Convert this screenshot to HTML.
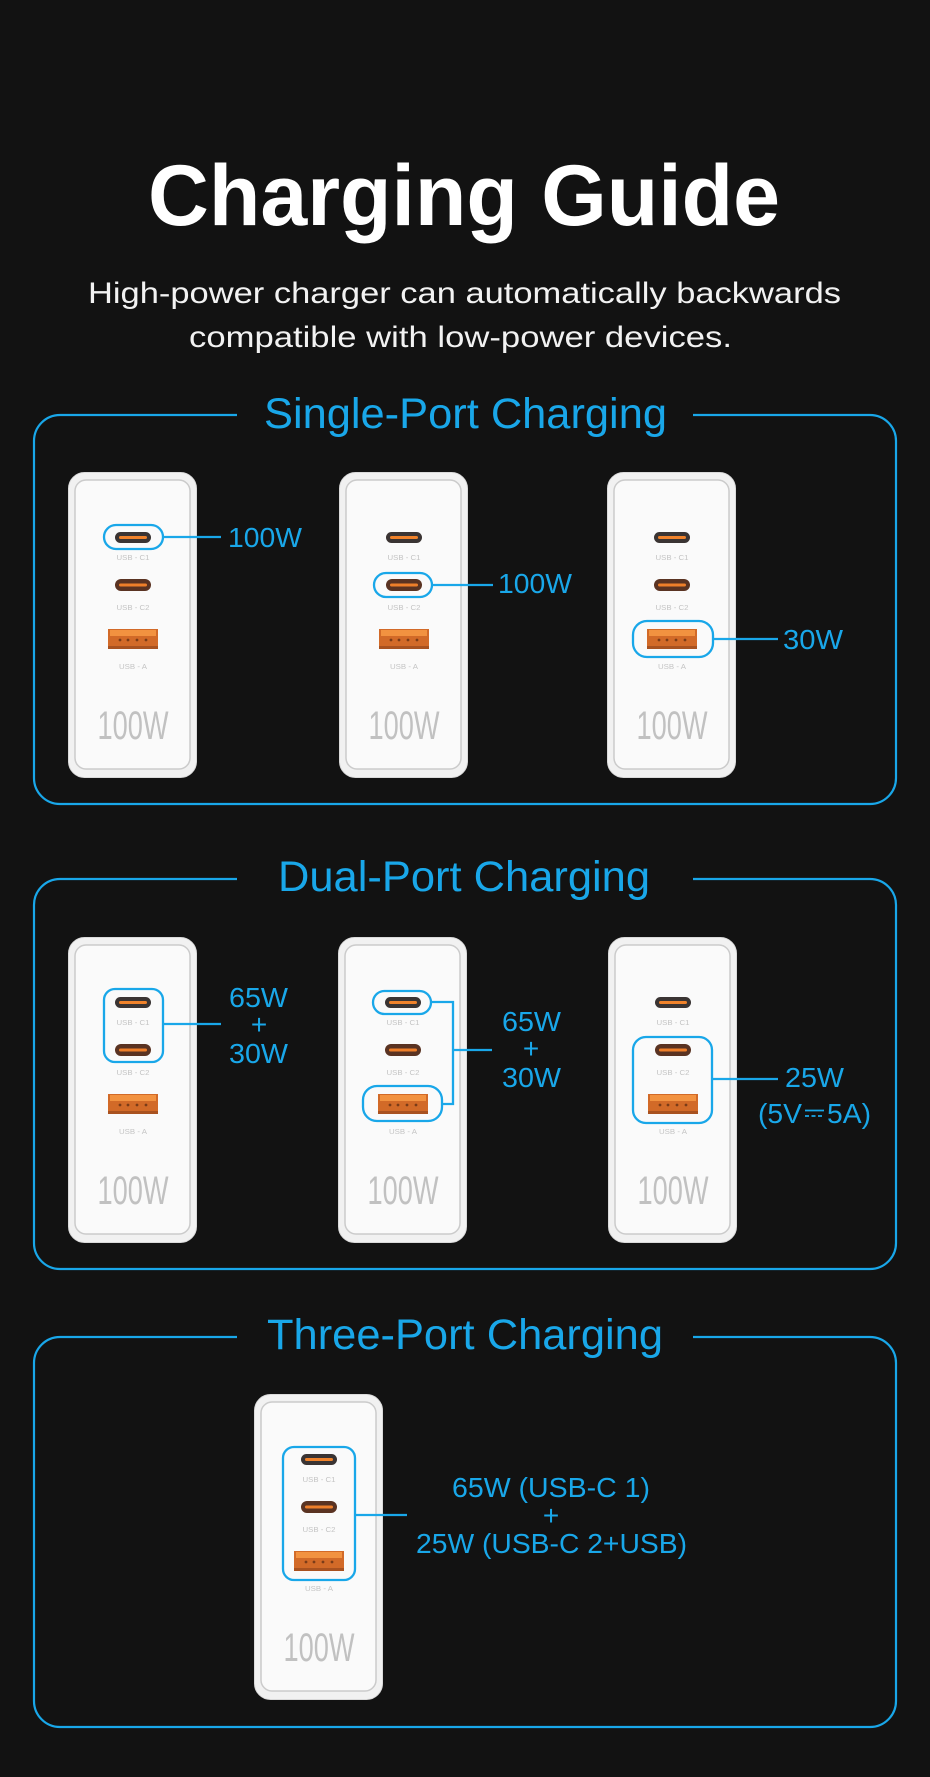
<!DOCTYPE html>
<html><head><meta charset="utf-8"><style>
html,body{margin:0;padding:0;background:#121212;}
svg{display:block;}
.t{font-family:"Liberation Sans",sans-serif;}
.pl{font-family:"Liberation Sans",sans-serif;font-size:7px;fill:#c4c4c4;text-anchor:middle;}
.big{font-family:"Liberation Sans Narrow","Liberation Sans",sans-serif;font-size:40px;fill:#c1c1c1;text-anchor:middle;}
.lb{font-family:"Liberation Sans",sans-serif;font-size:28px;fill:#19a7e9;}
.hd{font-family:"Liberation Sans",sans-serif;font-size:43px;fill:#19a7e9;}
</style></head><body>
<svg width="930" height="1777" viewBox="0 0 930 1777" xmlns="http://www.w3.org/2000/svg">
<rect width="930" height="1777" fill="#121212"/>

<!-- Title -->
<text class="t" x="148" y="225" font-size="86" font-weight="bold" fill="#ffffff" textLength="632" lengthAdjust="spacingAndGlyphs">Charging Guide</text>
<text class="t" x="88" y="303" font-size="30" fill="#f2f2f2" textLength="753" lengthAdjust="spacingAndGlyphs">High-power charger can automatically backwards</text>
<text class="t" x="189" y="347" font-size="30" fill="#f2f2f2" textLength="543" lengthAdjust="spacingAndGlyphs">compatible with low-power devices.</text>

<!-- Section boxes -->
<g fill="none" stroke="#19a7e9" stroke-width="2.2">
<path d="M237 415 H60 A26 26 0 0 0 34 441 V778 A26 26 0 0 0 60 804 H870 A26 26 0 0 0 896 778 V441 A26 26 0 0 0 870 415 H693"/>
<path d="M237 879 H60 A26 26 0 0 0 34 905 V1243 A26 26 0 0 0 60 1269 H870 A26 26 0 0 0 896 1243 V905 A26 26 0 0 0 870 879 H693"/>
<path d="M237 1337 H60 A26 26 0 0 0 34 1363 V1701 A26 26 0 0 0 60 1727 H870 A26 26 0 0 0 896 1701 V1363 A26 26 0 0 0 870 1337 H693"/>
</g>
<text class="hd" x="264" y="428" textLength="403" lengthAdjust="spacingAndGlyphs">Single-Port Charging</text>
<text class="hd" x="278" y="891" textLength="372" lengthAdjust="spacingAndGlyphs">Dual-Port Charging</text>
<text class="hd" x="267" y="1349" textLength="396" lengthAdjust="spacingAndGlyphs">Three-Port Charging</text>

<!-- Charger template copies -->
<g transform="translate(68,472)">
<rect x="0.5" y="0.5" width="128" height="305" rx="16" fill="#f1f1f1" stroke="#dadada"/>
<rect x="7" y="8" width="115" height="289" rx="11" fill="#fafafa" stroke="#cbcbcb" stroke-width="1.5"/>
<rect x="47" y="60" width="36" height="11" rx="5.5" fill="#3a3433"/><rect x="51" y="64" width="28" height="3" rx="1.5" fill="#f0822a"/>
<text class="pl" x="65" y="88" textLength="33" lengthAdjust="spacingAndGlyphs">USB - C1</text>
<rect x="47" y="107" width="36" height="12" rx="6" fill="#5a3322"/><rect x="51" y="111.5" width="28" height="3" rx="1.5" fill="#ee7f2a"/>
<text class="pl" x="65" y="138" textLength="33" lengthAdjust="spacingAndGlyphs">USB - C2</text>
<rect x="40" y="157" width="50" height="20" fill="#d26a28"/><rect x="42" y="158" width="46" height="6" fill="#f29240"/>
<circle cx="52" cy="168" r="1.4" fill="#7a3c18"/><circle cx="60" cy="168" r="1.4" fill="#7a3c18"/><circle cx="69" cy="168" r="1.4" fill="#7a3c18"/><circle cx="78" cy="168" r="1.4" fill="#7a3c18"/>
<rect x="40" y="174" width="50" height="3" fill="#a95220"/>
<text class="pl" x="65" y="197" textLength="28" lengthAdjust="spacingAndGlyphs">USB - A</text>
<text class="big" x="65" y="267" textLength="71" lengthAdjust="spacingAndGlyphs">100W</text>
</g>

<g transform="translate(339,472)">
<rect x="0.5" y="0.5" width="128" height="305" rx="16" fill="#f1f1f1" stroke="#dadada"/>
<rect x="7" y="8" width="115" height="289" rx="11" fill="#fafafa" stroke="#cbcbcb" stroke-width="1.5"/>
<rect x="47" y="60" width="36" height="11" rx="5.5" fill="#3a3433"/><rect x="51" y="64" width="28" height="3" rx="1.5" fill="#f0822a"/>
<text class="pl" x="65" y="88" textLength="33" lengthAdjust="spacingAndGlyphs">USB - C1</text>
<rect x="47" y="107" width="36" height="12" rx="6" fill="#5a3322"/><rect x="51" y="111.5" width="28" height="3" rx="1.5" fill="#ee7f2a"/>
<text class="pl" x="65" y="138" textLength="33" lengthAdjust="spacingAndGlyphs">USB - C2</text>
<rect x="40" y="157" width="50" height="20" fill="#d26a28"/><rect x="42" y="158" width="46" height="6" fill="#f29240"/>
<circle cx="52" cy="168" r="1.4" fill="#7a3c18"/><circle cx="60" cy="168" r="1.4" fill="#7a3c18"/><circle cx="69" cy="168" r="1.4" fill="#7a3c18"/><circle cx="78" cy="168" r="1.4" fill="#7a3c18"/>
<rect x="40" y="174" width="50" height="3" fill="#a95220"/>
<text class="pl" x="65" y="197" textLength="28" lengthAdjust="spacingAndGlyphs">USB - A</text>
<text class="big" x="65" y="267" textLength="71" lengthAdjust="spacingAndGlyphs">100W</text>
</g>

<g transform="translate(607,472)">
<rect x="0.5" y="0.5" width="128" height="305" rx="16" fill="#f1f1f1" stroke="#dadada"/>
<rect x="7" y="8" width="115" height="289" rx="11" fill="#fafafa" stroke="#cbcbcb" stroke-width="1.5"/>
<rect x="47" y="60" width="36" height="11" rx="5.5" fill="#3a3433"/><rect x="51" y="64" width="28" height="3" rx="1.5" fill="#f0822a"/>
<text class="pl" x="65" y="88" textLength="33" lengthAdjust="spacingAndGlyphs">USB - C1</text>
<rect x="47" y="107" width="36" height="12" rx="6" fill="#5a3322"/><rect x="51" y="111.5" width="28" height="3" rx="1.5" fill="#ee7f2a"/>
<text class="pl" x="65" y="138" textLength="33" lengthAdjust="spacingAndGlyphs">USB - C2</text>
<rect x="40" y="157" width="50" height="20" fill="#d26a28"/><rect x="42" y="158" width="46" height="6" fill="#f29240"/>
<circle cx="52" cy="168" r="1.4" fill="#7a3c18"/><circle cx="60" cy="168" r="1.4" fill="#7a3c18"/><circle cx="69" cy="168" r="1.4" fill="#7a3c18"/><circle cx="78" cy="168" r="1.4" fill="#7a3c18"/>
<rect x="40" y="174" width="50" height="3" fill="#a95220"/>
<text class="pl" x="65" y="197" textLength="28" lengthAdjust="spacingAndGlyphs">USB - A</text>
<text class="big" x="65" y="267" textLength="71" lengthAdjust="spacingAndGlyphs">100W</text>
</g>

<g transform="translate(68,937)">
<rect x="0.5" y="0.5" width="128" height="305" rx="16" fill="#f1f1f1" stroke="#dadada"/>
<rect x="7" y="8" width="115" height="289" rx="11" fill="#fafafa" stroke="#cbcbcb" stroke-width="1.5"/>
<rect x="47" y="60" width="36" height="11" rx="5.5" fill="#3a3433"/><rect x="51" y="64" width="28" height="3" rx="1.5" fill="#f0822a"/>
<text class="pl" x="65" y="88" textLength="33" lengthAdjust="spacingAndGlyphs">USB - C1</text>
<rect x="47" y="107" width="36" height="12" rx="6" fill="#5a3322"/><rect x="51" y="111.5" width="28" height="3" rx="1.5" fill="#ee7f2a"/>
<text class="pl" x="65" y="138" textLength="33" lengthAdjust="spacingAndGlyphs">USB - C2</text>
<rect x="40" y="157" width="50" height="20" fill="#d26a28"/><rect x="42" y="158" width="46" height="6" fill="#f29240"/>
<circle cx="52" cy="168" r="1.4" fill="#7a3c18"/><circle cx="60" cy="168" r="1.4" fill="#7a3c18"/><circle cx="69" cy="168" r="1.4" fill="#7a3c18"/><circle cx="78" cy="168" r="1.4" fill="#7a3c18"/>
<rect x="40" y="174" width="50" height="3" fill="#a95220"/>
<text class="pl" x="65" y="197" textLength="28" lengthAdjust="spacingAndGlyphs">USB - A</text>
<text class="big" x="65" y="267" textLength="71" lengthAdjust="spacingAndGlyphs">100W</text>
</g>

<g transform="translate(338,937)">
<rect x="0.5" y="0.5" width="128" height="305" rx="16" fill="#f1f1f1" stroke="#dadada"/>
<rect x="7" y="8" width="115" height="289" rx="11" fill="#fafafa" stroke="#cbcbcb" stroke-width="1.5"/>
<rect x="47" y="60" width="36" height="11" rx="5.5" fill="#3a3433"/><rect x="51" y="64" width="28" height="3" rx="1.5" fill="#f0822a"/>
<text class="pl" x="65" y="88" textLength="33" lengthAdjust="spacingAndGlyphs">USB - C1</text>
<rect x="47" y="107" width="36" height="12" rx="6" fill="#5a3322"/><rect x="51" y="111.5" width="28" height="3" rx="1.5" fill="#ee7f2a"/>
<text class="pl" x="65" y="138" textLength="33" lengthAdjust="spacingAndGlyphs">USB - C2</text>
<rect x="40" y="157" width="50" height="20" fill="#d26a28"/><rect x="42" y="158" width="46" height="6" fill="#f29240"/>
<circle cx="52" cy="168" r="1.4" fill="#7a3c18"/><circle cx="60" cy="168" r="1.4" fill="#7a3c18"/><circle cx="69" cy="168" r="1.4" fill="#7a3c18"/><circle cx="78" cy="168" r="1.4" fill="#7a3c18"/>
<rect x="40" y="174" width="50" height="3" fill="#a95220"/>
<text class="pl" x="65" y="197" textLength="28" lengthAdjust="spacingAndGlyphs">USB - A</text>
<text class="big" x="65" y="267" textLength="71" lengthAdjust="spacingAndGlyphs">100W</text>
</g>

<g transform="translate(608,937)">
<rect x="0.5" y="0.5" width="128" height="305" rx="16" fill="#f1f1f1" stroke="#dadada"/>
<rect x="7" y="8" width="115" height="289" rx="11" fill="#fafafa" stroke="#cbcbcb" stroke-width="1.5"/>
<rect x="47" y="60" width="36" height="11" rx="5.5" fill="#3a3433"/><rect x="51" y="64" width="28" height="3" rx="1.5" fill="#f0822a"/>
<text class="pl" x="65" y="88" textLength="33" lengthAdjust="spacingAndGlyphs">USB - C1</text>
<rect x="47" y="107" width="36" height="12" rx="6" fill="#5a3322"/><rect x="51" y="111.5" width="28" height="3" rx="1.5" fill="#ee7f2a"/>
<text class="pl" x="65" y="138" textLength="33" lengthAdjust="spacingAndGlyphs">USB - C2</text>
<rect x="40" y="157" width="50" height="20" fill="#d26a28"/><rect x="42" y="158" width="46" height="6" fill="#f29240"/>
<circle cx="52" cy="168" r="1.4" fill="#7a3c18"/><circle cx="60" cy="168" r="1.4" fill="#7a3c18"/><circle cx="69" cy="168" r="1.4" fill="#7a3c18"/><circle cx="78" cy="168" r="1.4" fill="#7a3c18"/>
<rect x="40" y="174" width="50" height="3" fill="#a95220"/>
<text class="pl" x="65" y="197" textLength="28" lengthAdjust="spacingAndGlyphs">USB - A</text>
<text class="big" x="65" y="267" textLength="71" lengthAdjust="spacingAndGlyphs">100W</text>
</g>

<g transform="translate(254,1394)">
<rect x="0.5" y="0.5" width="128" height="305" rx="16" fill="#f1f1f1" stroke="#dadada"/>
<rect x="7" y="8" width="115" height="289" rx="11" fill="#fafafa" stroke="#cbcbcb" stroke-width="1.5"/>
<rect x="47" y="60" width="36" height="11" rx="5.5" fill="#3a3433"/><rect x="51" y="64" width="28" height="3" rx="1.5" fill="#f0822a"/>
<text class="pl" x="65" y="88" textLength="33" lengthAdjust="spacingAndGlyphs">USB - C1</text>
<rect x="47" y="107" width="36" height="12" rx="6" fill="#5a3322"/><rect x="51" y="111.5" width="28" height="3" rx="1.5" fill="#ee7f2a"/>
<text class="pl" x="65" y="138" textLength="33" lengthAdjust="spacingAndGlyphs">USB - C2</text>
<rect x="40" y="157" width="50" height="20" fill="#d26a28"/><rect x="42" y="158" width="46" height="6" fill="#f29240"/>
<circle cx="52" cy="168" r="1.4" fill="#7a3c18"/><circle cx="60" cy="168" r="1.4" fill="#7a3c18"/><circle cx="69" cy="168" r="1.4" fill="#7a3c18"/><circle cx="78" cy="168" r="1.4" fill="#7a3c18"/>
<rect x="40" y="174" width="50" height="3" fill="#a95220"/>
<text class="pl" x="65" y="197" textLength="28" lengthAdjust="spacingAndGlyphs">USB - A</text>
<text class="big" x="65" y="267" textLength="71" lengthAdjust="spacingAndGlyphs">100W</text>
</g>

<!-- Highlights & connectors -->
<g fill="none" stroke="#19a7e9" stroke-width="2.3">
<!-- single -->
<rect x="104" y="525" width="59" height="24" rx="12"/>
<path d="M163 537 H221"/>
<rect x="374" y="573" width="58" height="24" rx="12"/>
<path d="M432 585 H493"/>
<rect x="633" y="621" width="80" height="36" rx="14"/>
<path d="M713 639 H778"/>
<!-- dual -->
<rect x="104" y="989" width="59" height="73" rx="11"/>
<path d="M163 1024 H221"/>
<rect x="373" y="991" width="58" height="23" rx="11.5"/>
<rect x="363" y="1086" width="79" height="35" rx="14"/>
<path d="M431 1002 H453 V1104 H442 M453 1050 H492"/>
<rect x="633" y="1037" width="79" height="86" rx="13"/>
<path d="M712 1079 H778"/>
<!-- three -->
<rect x="283" y="1447" width="72" height="133" rx="11"/>
<path d="M355 1515 H407"/>
</g>

<!-- Labels -->
<text class="lb" x="228" y="547" textLength="74" lengthAdjust="spacingAndGlyphs">100W</text>
<text class="lb" x="498" y="593" textLength="74" lengthAdjust="spacingAndGlyphs">100W</text>
<text class="lb" x="783" y="649" textLength="60" lengthAdjust="spacingAndGlyphs">30W</text>

<text class="lb" x="229" y="1007" textLength="59" lengthAdjust="spacingAndGlyphs">65W</text>
<text class="lb" x="259" y="1034" text-anchor="middle">+</text>
<text class="lb" x="229" y="1063" textLength="59" lengthAdjust="spacingAndGlyphs">30W</text>

<text class="lb" x="502" y="1031" textLength="59" lengthAdjust="spacingAndGlyphs">65W</text>
<text class="lb" x="531" y="1058" text-anchor="middle">+</text>
<text class="lb" x="502" y="1087" textLength="59" lengthAdjust="spacingAndGlyphs">30W</text>

<text class="lb" x="785" y="1087" textLength="59" lengthAdjust="spacingAndGlyphs">25W</text>
<text class="lb" x="758" y="1123" textLength="44" lengthAdjust="spacingAndGlyphs">(5V</text>
<path d="M805 1110.5 H824" stroke="#19a7e9" stroke-width="1.8"/>
<path d="M805 1116 H824" stroke="#19a7e9" stroke-width="1.8" stroke-dasharray="4 2.5"/>
<text class="lb" x="827" y="1123" textLength="44" lengthAdjust="spacingAndGlyphs">5A)</text>

<text class="lb" x="452" y="1497" textLength="198" lengthAdjust="spacingAndGlyphs">65W (USB-C 1)</text>
<text class="lb" x="551" y="1525" text-anchor="middle">+</text>
<text class="lb" x="416" y="1553" textLength="271" lengthAdjust="spacingAndGlyphs">25W (USB-C 2+USB)</text>
</svg>
</body></html>
